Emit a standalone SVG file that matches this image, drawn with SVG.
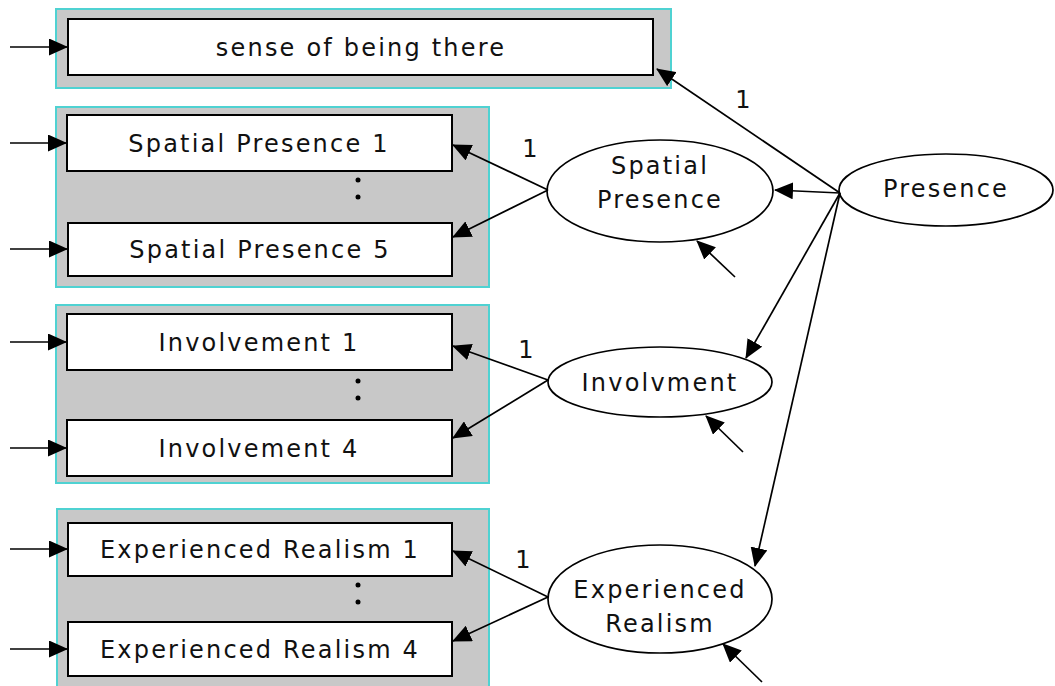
<svg xmlns="http://www.w3.org/2000/svg" width="1055" height="686" viewBox="0 0 1055 686">
<defs>
<marker id="ah" markerUnits="userSpaceOnUse" markerWidth="19" markerHeight="17" refX="18" refY="8.5" orient="auto" viewBox="0 0 19 17">
<path d="M0,0 L19,8.5 L0,17 z" fill="#000"/>
</marker>
<style>
.grp{fill:#c8c8c8;stroke:#4fd2d2;stroke-width:2}
.box{fill:#fff;stroke:#000;stroke-width:2}
.ell{fill:#fff;stroke:#000;stroke-width:1.7}
.t{font-family:"DejaVu Sans",Verdana,sans-serif;font-size:24px;letter-spacing:2.2px;fill:#111;text-anchor:middle}
.c line{stroke:#000;stroke-width:1.7;marker-end:url(#ah)}
.dot{fill:#000}
</style>
</defs>
<rect width="1055" height="686" fill="#fff"/>

<g id="grp-sense">
<rect class="grp" x="56" y="9" width="615" height="79"/>
<g id="sense"><rect class="box" x="68" y="19" width="585" height="56"/>
<text class="t" x="361" y="56">sense of being there</text></g>
</g>

<g id="grp-spatial">
<rect class="grp" x="56" y="107" width="433" height="180"/>
<g id="sp1"><rect class="box" x="67" y="115" width="385" height="56"/>
<text class="t" x="259" y="152">Spatial Presence 1</text></g>
<circle class="dot" cx="358" cy="180" r="2.5"/><circle class="dot" cx="358" cy="197" r="2.5"/>
<g id="sp5"><rect class="box" x="68" y="223" width="384" height="53"/>
<text class="t" x="260" y="258">Spatial Presence 5</text></g>
</g>

<g id="grp-involvement">
<rect class="grp" x="56" y="305" width="433" height="178"/>
<g id="inv1"><rect class="box" x="67" y="314" width="385" height="56"/>
<text class="t" x="259" y="351">Involvement 1</text></g>
<circle class="dot" cx="358" cy="381" r="2.5"/><circle class="dot" cx="358" cy="398" r="2.5"/>
<g id="inv4"><rect class="box" x="67" y="420" width="385" height="56"/>
<text class="t" x="259" y="457">Involvement 4</text></g>
</g>

<g id="grp-realism">
<rect class="grp" x="57" y="509" width="432" height="190"/>
<g id="er1"><rect class="box" x="68" y="523" width="384" height="53"/>
<text class="t" x="260" y="558">Experienced Realism 1</text></g>
<circle class="dot" cx="358" cy="585" r="2.5"/><circle class="dot" cx="358" cy="602" r="2.5"/>
<g id="er4"><rect class="box" x="68" y="622" width="384" height="54"/>
<text class="t" x="260" y="658">Experienced Realism 4</text></g>
</g>

<g id="presence"><ellipse class="ell" cx="946" cy="190" rx="107" ry="36"/>
<text class="t" x="946" y="197">Presence</text></g>
<g id="spatial-presence"><ellipse class="ell" cx="660" cy="191" rx="113" ry="51"/>
<text class="t" x="660" y="174">Spatial</text><text class="t" x="660" y="208">Presence</text></g>
<g id="involvment"><ellipse class="ell" cx="660" cy="382" rx="112" ry="35"/>
<text class="t" x="660" y="391">Involvment</text></g>
<g id="experienced-realism"><ellipse class="ell" cx="660" cy="599" rx="112" ry="54"/>
<text class="t" x="660" y="598">Experienced</text><text class="t" x="660" y="632">Realism</text></g>

<g id="connectors" class="c">
<line x1="10" y1="47" x2="67" y2="47"/>
<line x1="10" y1="143" x2="66" y2="143"/>
<line x1="10" y1="249" x2="67" y2="249"/>
<line x1="10" y1="342" x2="66" y2="342"/>
<line x1="10" y1="448" x2="66" y2="448"/>
<line x1="10" y1="549" x2="67" y2="549"/>
<line x1="10" y1="649" x2="67" y2="649"/>
<line x1="840" y1="193" x2="657" y2="69"/>
<line x1="840" y1="193" x2="775" y2="190"/>
<line x1="840" y1="193" x2="746" y2="358"/>
<line x1="840" y1="193" x2="755" y2="566"/>
<line x1="548" y1="190" x2="453" y2="145"/>
<line x1="548" y1="190" x2="453" y2="237"/>
<line x1="548" y1="380" x2="453" y2="346"/>
<line x1="548" y1="380" x2="453" y2="438"/>
<line x1="548" y1="597" x2="453" y2="551"/>
<line x1="548" y1="597" x2="453" y2="641"/>
<line x1="735" y1="277" x2="697" y2="241"/>
<line x1="743" y1="452" x2="706" y2="416"/>
<line x1="762" y1="682" x2="723" y2="644"/>
</g>
<g id="labels">
<text class="t" x="744" y="108">1</text>
<text class="t" x="531" y="157">1</text>
<text class="t" x="527" y="358">1</text>
<text class="t" x="524" y="568">1</text>
</g>
</svg>
